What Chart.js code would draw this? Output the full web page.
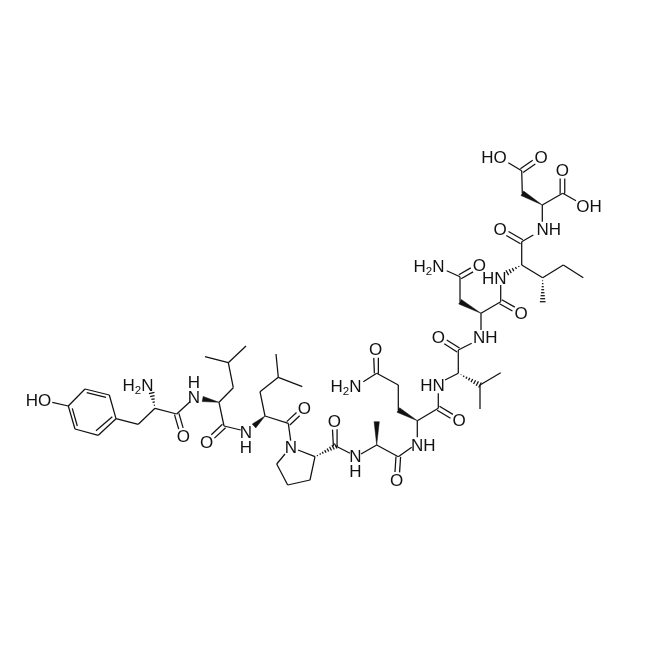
<!DOCTYPE html>
<html>
<head>
<meta charset="utf-8">
<script src="https://cdn.jsdelivr.net/npm/chart.js@4"></script>
<style>
body { margin: 0; background: #fff; }
canvas { display: block; }
</style>
</head>
<body>
<canvas id="molChart" width="650" height="649"></canvas>
<script>
// Plain bonds: x1, y1, x2, y2
const singleBonds = [
    [52.3,402.3,68.3,406], [68.3,406,85,389], [85,389,109.3,395], [109.3,395,116,418.7],
    [116,418.7,98.3,435.3], [98.3,435.3,75,429], [75,429,68.3,406],
    [116,418.7,138.3,424.3], [138.3,424.3,155,408.3], [155,408.3,176.7,414], [176.7,414,190,401.7],
    [219,402.3,233.3,387.7], [233.3,387.7,228.3,362.7], [228.3,362.7,205,356.7], [228.3,362.7,246,346],
    [219,402.3,224,426], [224,426,240.7,430],
    [265,416,260,391.7], [260,391.7,278.3,377.3], [278.3,377.3,276,354], [278.3,377.3,302.3,386.7],
    [265,416,288.3,423.3], [288.3,423.3,290.7,440.7],
    [285,454,276.7,464], [276.7,464,287.7,485], [287.7,485,310,480], [310,480,315,456.7], [315,456.7,298,450],
    [335.7,446,350,453.3],
    [361,454,376.7,445], [376.7,445,398.3,456.7], [398.3,456.7,411.7,447.3],
    [417.3,420.7,417.3,437.3], [398.3,410,398.3,385], [398.3,385,376.7,373.3], [376.7,373.3,363.3,381.7],
    [417.3,420.7,438.3,408.3], [438.3,408.3,438.3,393.3], [445,380,458.3,373.3],
    [480,385,480,409], [480,385,500.7,372.7], [458.3,373.3,458.3,350], [458.3,350,471.7,343.3],
    [481,313.3,481,330], [460,301.7,460,276.7], [460,276.7,446.7,270.7],
    [481,313.3,500.7,301.7], [500.7,301.7,500.7,285],
    [521.7,265,542.7,277.7], [542.7,277.7,563.3,265], [563.3,265,583.3,277.7],
    [521.7,265,521.7,241.7], [521.7,241.7,533.3,235],
    [542.3,205,542.3,221.7], [522.3,193.3,521.7,170.7], [521.7,170.7,508.3,162.7],
    [542.3,205,562.7,193.3], [562.7,193.3,576,200.7]
];
// Second line inside the ring
const ringInnerBonds = [
    [72.3,408.3,77.3,426], [86.7,392.7,106,397.3], [96,430.7,112.3,416.7]
];
// Carbonyls: carbon x, y, oxygen label x, y
const carbonyls = [
    [176.7,414,183.3,436.7], [224,426,206.7,442.3], [288.3,423.3,304.3,408.3], [335.7,446,334.3,421],
    [398.3,456.7,396.7,480.7], [376.7,373.3,375.7,349.3], [438.3,408.3,459,420.7], [458.3,350,438.3,337.3],
    [460,276.7,479.3,265.7], [500.7,301.7,521,313.3], [521.7,241.7,500,229.3], [521.7,170.7,541,157.3],
    [562.7,193.3,562.3,170]
];
// Wedges and hashes: narrow end x, y, wide end x, y
const wedges = [
    [219,402.3,202.7,399], [265,416,254,426], [376.7,445,376.7,421.7],
    [417.3,420.7,398.3,410], [481,313.3,460,301.7], [542.3,205,522.3,193.3]
];
const hashes = [
    [155,408.3,151.7,393], [315,456.7,335.7,446], [458.3,373.3,480,385],
    [521.7,265,507.3,272.7], [542.7,277.7,542.7,301.7]
];
// Atom labels, a digit is set as subscript
const atomTexts = ['HO','H2N','N','H','N','H','N','N','H','H2N','NH','HN','NH','H2N','HN','NH','HO','OH'];
const atomX = [38.5,138,194,194,246,246,291,355.5,355.5,346,423.3,432.5,485.3,429,494.3,548.8,494,589];
const atomY = [400,385,397.3,382.7,432.7,447.3,447.3,456.7,471.5,386,445,385,337.3,266,278.3,229.3,157.3,206];
const oxygenTexts = carbonyls.map(() => 'O');

const INK = '#111111';

function lineSet(pts, width) {
    return {
        data: pts,
        showLine: true,
        borderColor: INK,
        borderWidth: width || 1.25,
        pointRadius: 0,
        fill: false
    };
}

function bondSet(b) {
    return lineSet([{ x: b[0], y: b[1] }, { x: b[2], y: b[3] }]);
}

// normal of a bond, scaled to d
function normal(b, d) {
    const dx = b[2] - b[0], dy = b[3] - b[1], len = Math.hypot(dx, dy);
    return [-dy / len * d, dx / len * d];
}

const datasets = [];
singleBonds.concat(ringInnerBonds).forEach(b => datasets.push(bondSet(b)));

carbonyls.forEach(b => {
    // stop short of the O glyph
    const len = Math.hypot(b[2] - b[0], b[3] - b[1]);
    const k = (len - 8.5) / len;
    const ex = b[0] + (b[2] - b[0]) * k, ey = b[1] + (b[3] - b[1]) * k;
    const n = normal(b, 2.3);
    datasets.push(bondSet([b[0] + n[0], b[1] + n[1], ex + n[0], ey + n[1]]));
    datasets.push(bondSet([b[0] - n[0], b[1] - n[1], ex - n[0], ey - n[1]]));
});

wedges.forEach(b => {
    const n = normal(b, 2.6);
    const set = lineSet([
        { x: b[0], y: b[1] },
        { x: b[2] + n[0], y: b[3] + n[1] },
        { x: b[2] - n[0], y: b[3] - n[1] },
        { x: b[0], y: b[1] }
    ], 0.5);
    set.fill = 'shape';
    set.backgroundColor = INK;
    datasets.push(set);
});

hashes.forEach(b => {
    const steps = Math.round(Math.hypot(b[2] - b[0], b[3] - b[1]) / 3);
    for (let i = 1; i <= steps; i++) {
        const t = i / steps;
        const n = normal(b, 2.8 * t);
        const x = b[0] + (b[2] - b[0]) * t, y = b[1] + (b[3] - b[1]) * t;
        datasets.push(bondSet([x + n[0], y + n[1], x - n[0], y - n[1]]));
    }
});

// Draws the atom letters at their data positions
const atomLabelPlugin = {
    id: 'atomLabels',
    afterDatasetsDraw(chart) {
        const { ctx, scales } = chart;
        const big = '17px "Liberation Sans", Arial, sans-serif';
        const small = '11.5px "Liberation Sans", Arial, sans-serif';
        const put = (text, vx, vy) => {
            const parts = text.split('');
            let width = 0;
            parts.forEach(c => {
                ctx.font = /\d/.test(c) ? small : big;
                width += ctx.measureText(c).width;
            });
            let px = scales.x.getPixelForValue(vx) - width / 2;
            const py = scales.y.getPixelForValue(vy);
            parts.forEach(c => {
                const sub = /\d/.test(c);
                ctx.font = sub ? small : big;
                ctx.fillText(c, px, sub ? py + 6 : py + 1);
                px += ctx.measureText(c).width;
            });
        };
        ctx.save();
        ctx.fillStyle = INK;
        ctx.textAlign = 'left';
        ctx.textBaseline = 'middle';
        atomTexts.forEach((t, i) => put(t, atomX[i], atomY[i]));
        carbonyls.forEach((b, i) => put(oxygenTexts[i], b[2], b[3]));
        ctx.restore();
    }
};

new Chart(document.getElementById('molChart').getContext('2d'), {
    type: 'scatter',
    data: { datasets: datasets },
    options: {
        responsive: false,
        animation: false,
        layout: { padding: 0 },
        plugins: {
            legend: { display: false },
            tooltip: { enabled: false }
        },
        scales: {
            x: { type: 'linear', min: 0, max: 650, display: false },
            y: { type: 'linear', min: 0, max: 649, reverse: true, display: false }
        }
    },
    plugins: [atomLabelPlugin]
});
</script>
</body>
</html>
